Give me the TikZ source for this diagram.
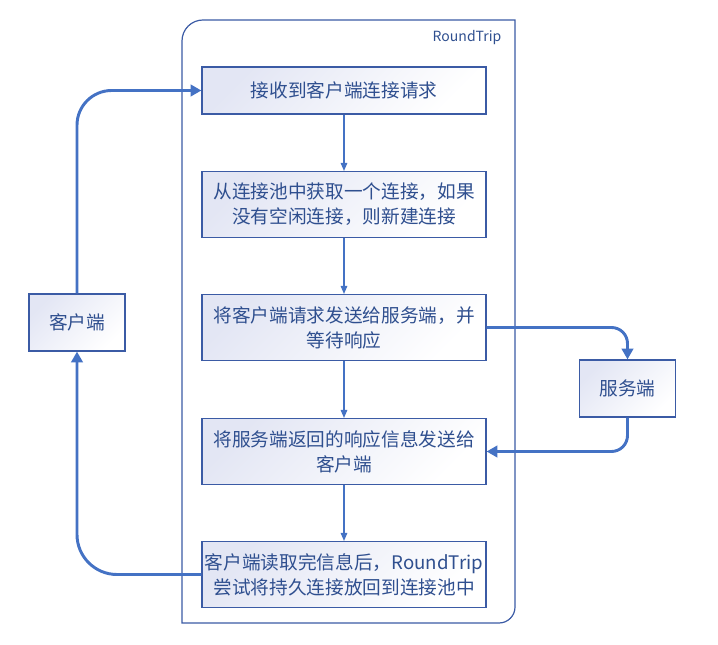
\documentclass[tikz,border=0pt]{standalone}
\usepackage{fontspec}
\setmainfont{Noto Sans CJK SC}
\usetikzlibrary{arrows.meta}
\definecolor{txtblue}{HTML}{2F4F8F}
\definecolor{lineblue}{HTML}{3B5BA5}
\definecolor{arrowblue}{HTML}{4472C4}
\definecolor{boxtop}{HTML}{E3E6F4}
\begin{document}
\begin{tikzpicture}[x=0.75pt, y=-0.75pt,
		box/.style={draw=lineblue, line width=0.9pt, top color=boxtop, bottom color=white,
			shading angle=45, text=txtblue, align=center, inner sep=0pt,
			font=\fontsize{14}{18.75}\selectfont},
		stepbox/.style={box, minimum width=213pt, minimum height=49.5pt},
		endbox/.style={box, minimum width=72pt, minimum height=42.75pt},
		flow/.style={draw=arrowblue, line width=0.8pt, -{Triangle[length=6pt,width=5pt]}},
		link/.style={draw=arrowblue, line width=2.2pt, -{Triangle[length=8pt,width=8.5pt]}}
		]
	\useasboundingbox (0,0) rectangle (718,645);
	% RoundTrip frame
	\draw[lineblue, line width=0.9pt] (182,623) -- (182,41) to[out=90,in=180] (203,20)
		-- (515,20) -- (515,607) to[out=-90,in=0] (499,623) -- cycle;
	\node [text=txtblue, anchor=east, font=\fontsize{10.5}{12}\selectfont] (frame) at (506,38) {RoundTrip};
	% steps
	\node [stepbox, minimum height=35.25pt] (s1) at (344,90.5) {接收到客户端连接请求};
	\node [stepbox] (s2) at (344,204.5) {从连接池中获取一个连接，如果\\没有空闲连接，则新建连接};
	\node [stepbox] (s3) at (344,327.5) {将客户端请求发送给服务端，并\\等待响应};
	\node [stepbox] (s4) at (344,451.5) {将服务端返回的响应信息发送给\\客户端};
	\node [stepbox] (s5) at (344,574.5) {客户端读取完信息后，RoundTrip\\尝试将持久连接放回到连接池中};
	% client and server
	\node [endbox] (client) at (77,322.5) {客户端};
	\node [endbox] (server) at (627.5,388.5) {服务端};
	% arrows
	\draw [flow] (s1) -- (s2);
	\draw [flow] (s2) -- (s3);
	\draw [flow] (s3) -- (s4);
	\draw [flow] (s4) -- (s5);
	\draw [link, rounded corners=26pt] (client.north) |- (s1.west);
	\draw [link, rounded corners=30pt] (s5.west) -| (client.south);
	\draw [link, rounded corners=12pt] (s3.east) -| (server.north);
	\draw [link, rounded corners=12pt] (server.south) |- (s4.east);
\end{tikzpicture}
\end{document}
